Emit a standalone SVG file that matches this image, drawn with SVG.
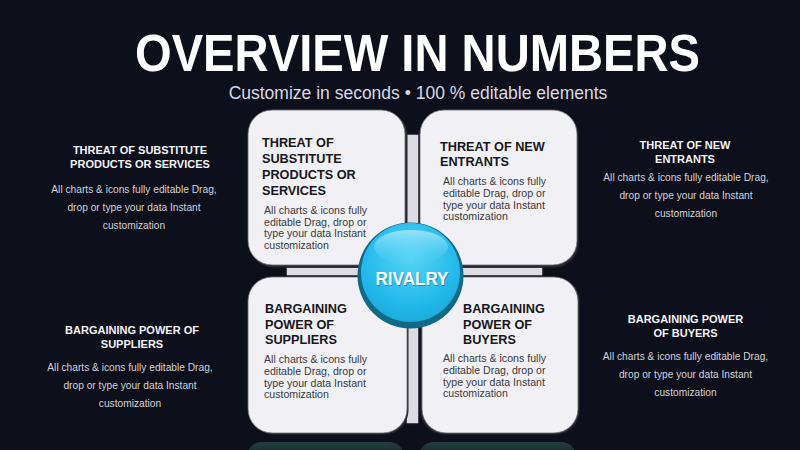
<svg xmlns="http://www.w3.org/2000/svg" width="800" height="450" viewBox="0 0 800 450">
<defs>
<style>
.title{font-family:"Liberation Sans",Arial,sans-serif;font-weight:700;fill:#ffffff}
.sub{font-family:"Liberation Sans",Arial,sans-serif;fill:#d9d9e2}
.ct{font-family:"Liberation Sans",Arial,sans-serif;font-weight:700;font-size:12.7px;fill:#17171c}
.cb{font-family:"Liberation Sans",Arial,sans-serif;font-size:10.6px;fill:#3a3a40}
.st{font-family:"Liberation Sans",Arial,sans-serif;font-weight:700;font-size:11px;fill:#f4f4f8;text-anchor:middle}
.sb{font-family:"Liberation Sans",Arial,sans-serif;font-size:10.2px;fill:#d2d2da;text-anchor:middle}
.card{fill:#f1f0f4;stroke:#6a6a72;stroke-width:0.8}
.cardsh{fill:#26262e}
.bar{fill:#dddce2;stroke:#15151b;stroke-width:1.5}
</style>
<radialGradient id="ball" cx="0.5" cy="0.35" r="0.7">
<stop offset="0" stop-color="#55d4f6"/>
<stop offset="0.7" stop-color="#22b8ea"/>
<stop offset="1" stop-color="#1aa6d6"/>
</radialGradient>
<linearGradient id="hl" x1="0" y1="0" x2="0" y2="1">
<stop offset="0" stop-color="#a6e9fb" stop-opacity="0.85"/>
<stop offset="1" stop-color="#5fd2f4" stop-opacity="0.05"/>
</linearGradient>
<linearGradient id="refl" x1="0" y1="0" x2="0" y2="1">
<stop offset="0" stop-color="#243f40"/>
<stop offset="1" stop-color="#0f141c"/>
</linearGradient>
</defs>
<rect x="0" y="0" width="800" height="450" fill="#0d0f1b"/>

<g id="header">
<text class="title" x="417.5" y="71" font-size="51" text-anchor="middle" textLength="565" lengthAdjust="spacingAndGlyphs">OVERVIEW IN NUMBERS</text>
<text class="sub" x="418" y="99" font-size="17.5" text-anchor="middle">Customize in seconds • 100 % editable elements</text>
</g>

<g id="connectors">
<rect class="bar" x="406" y="134" width="13" height="290"/>
<rect class="bar" x="286" y="267" width="257" height="9"/>
</g>

<g id="reflections">
<rect x="248" y="442" width="155" height="24" rx="14" fill="url(#refl)"/>
<rect x="420" y="442" width="155" height="24" rx="14" fill="url(#refl)"/>
</g>

<g id="card-substitute">
<rect class="cardsh" x="249.5" y="111.5" width="158" height="156" rx="24"/>
<rect class="card" x="248" y="110" width="157" height="155" rx="24"/>
<text class="ct" x="262" y="147">THREAT OF</text>
<text class="ct" x="262" y="163">SUBSTITUTE</text>
<text class="ct" x="262" y="179">PRODUCTS OR</text>
<text class="ct" x="262" y="195">SERVICES</text>
<text class="cb" x="264" y="214">All charts &amp; icons fully</text>
<text class="cb" x="264" y="225.7">editable Drag, drop or</text>
<text class="cb" x="264" y="237.4">type your data Instant</text>
<text class="cb" x="264" y="249">customization</text>
</g>

<g id="card-new-entrants">
<rect class="cardsh" x="419.5" y="111.5" width="159" height="156" rx="24"/>
<rect class="card" x="420" y="110" width="157" height="155" rx="24"/>
<text class="ct" x="440" y="151">THREAT OF NEW</text>
<text class="ct" x="440" y="166">ENTRANTS</text>
<text class="cb" x="443" y="185">All charts &amp; icons fully</text>
<text class="cb" x="443" y="197">editable Drag, drop or</text>
<text class="cb" x="443" y="209">type your data Instant</text>
<text class="cb" x="443" y="220">customization</text>
</g>

<g id="card-suppliers">
<rect class="cardsh" x="249.5" y="277" width="159" height="157.5" rx="24"/>
<rect class="card" x="248" y="277" width="159" height="156" rx="24"/>
<text class="ct" x="265" y="313">BARGAINING</text>
<text class="ct" x="265" y="328.5">POWER OF</text>
<text class="ct" x="265" y="344">SUPPLIERS</text>
<text class="cb" x="264" y="363">All charts &amp; icons fully</text>
<text class="cb" x="264" y="375">editable Drag, drop or</text>
<text class="cb" x="264" y="387">type your data Instant</text>
<text class="cb" x="264" y="398">customization</text>
</g>

<g id="card-buyers">
<rect class="cardsh" x="420.5" y="277" width="159" height="157.5" rx="24"/>
<rect class="card" x="422" y="277" width="156" height="156" rx="24"/>
<text class="ct" x="463" y="313">BARGAINING</text>
<text class="ct" x="463" y="328.5">POWER OF</text>
<text class="ct" x="463" y="344">BUYERS</text>
<text class="cb" x="443" y="362">All charts &amp; icons fully</text>
<text class="cb" x="443" y="374">editable Drag, drop or</text>
<text class="cb" x="443" y="386">type your data Instant</text>
<text class="cb" x="443" y="397">customization</text>
</g>

<g id="rivalry">
<circle cx="410.5" cy="275.5" r="53" fill="#0f6a88"/>
<circle cx="410.5" cy="272.5" r="49.5" fill="url(#ball)"/>
<ellipse cx="411" cy="247" rx="37" ry="17" fill="url(#hl)"/>
<text x="413" y="286" font-family="Liberation Sans, Arial, sans-serif" font-weight="700" font-size="19" fill="#0b5f7a" fill-opacity="0.5" text-anchor="middle" textLength="73" lengthAdjust="spacingAndGlyphs">RIVALRY</text>
<text x="412" y="285" font-family="Liberation Sans, Arial, sans-serif" font-weight="700" font-size="19" fill="#ffffff" text-anchor="middle" textLength="73" lengthAdjust="spacingAndGlyphs">RIVALRY</text>
</g>

<g id="side-substitute">
<text class="st" x="140" y="154">THREAT OF SUBSTITUTE</text>
<text class="st" x="140" y="168">PRODUCTS OR SERVICES</text>
<text class="sb" x="134" y="193">All charts &amp; icons fully editable Drag,</text>
<text class="sb" x="134" y="211">drop or type your data Instant</text>
<text class="sb" x="134" y="229">customization</text>
</g>

<g id="side-new-entrants">
<text class="st" x="685" y="149">THREAT OF NEW</text>
<text class="st" x="685" y="163">ENTRANTS</text>
<text class="sb" x="686" y="181">All charts &amp; icons fully editable Drag,</text>
<text class="sb" x="686" y="199">drop or type your data Instant</text>
<text class="sb" x="686" y="217">customization</text>
</g>

<g id="side-suppliers">
<text class="st" x="132" y="334">BARGAINING POWER OF</text>
<text class="st" x="132" y="348">SUPPLIERS</text>
<text class="sb" x="130" y="371">All charts &amp; icons fully editable Drag,</text>
<text class="sb" x="130" y="389">drop or type your data Instant</text>
<text class="sb" x="130" y="407">customization</text>
</g>

<g id="side-buyers">
<text class="st" x="685.5" y="323">BARGAINING POWER</text>
<text class="st" x="685.5" y="337">OF BUYERS</text>
<text class="sb" x="685.5" y="360">All charts &amp; icons fully editable Drag,</text>
<text class="sb" x="685.5" y="378">drop or type your data Instant</text>
<text class="sb" x="685.5" y="396">customization</text>
</g>
</svg>
